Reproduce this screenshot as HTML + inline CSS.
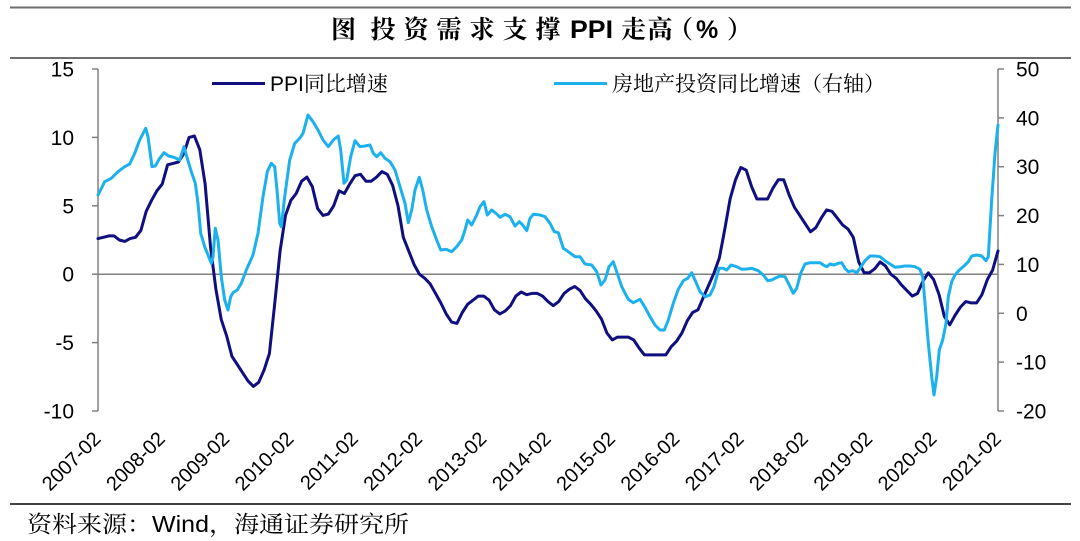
<!DOCTYPE html>
<html>
<head>
<meta charset="utf-8">
<style>
  html, body { margin:0; padding:0; background:#fff; }
  body { width:1080px; height:541px; overflow:hidden; }
  svg { display:block; }
  .num { font-family:"Liberation Sans", Arial, sans-serif; font-size:21px; fill:#000; }
  .cjk { font-family:"Liberation Sans", "Noto Serif CJK SC", "Noto Sans CJK SC", serif; fill:#000; }
  .ttl { font-family:"Liberation Sans", "Noto Serif CJK SC", "Noto Sans CJK SC", serif; font-weight:bold; font-size:25px; fill:#000; }
</style>
</head>
<body>
<svg width="1080" height="541" viewBox="0 0 1080 541" xmlns="http://www.w3.org/2000/svg">
  <rect x="0" y="0" width="1080" height="541" fill="#fff"/>

  <!-- rules -->
  <line x1="10" y1="7.5" x2="1071" y2="7.5" stroke="#6e6e6e" stroke-width="2"/>
  <line x1="10" y1="58" x2="1071" y2="58" stroke="#6e6e6e" stroke-width="2"/>
  <line x1="10" y1="504" x2="1071" y2="504" stroke="#444" stroke-width="2"/>

  <!-- title -->
  <text class="ttl" x="331" y="38">图</text>
  <text class="ttl" x="370.5 403.5 436.5 469.5 502.5 535.5" y="38">投资需求支撑</text>
  <text class="ttl" x="570" y="38" font-size="24" textLength="43" lengthAdjust="spacingAndGlyphs">PPI</text>
  <text class="ttl" x="621 647.5" y="38">走高</text>
  <text class="ttl" x="668" y="38">（</text>
  <text class="ttl" x="696" y="38" font-size="24">%</text>
  <text class="ttl" x="727" y="38">）</text>

  <!-- legend -->
  <line x1="212" y1="83.5" x2="265" y2="83.5" stroke="#0f0f7f" stroke-width="3"/>
  <text class="cjk" x="270" y="91" font-size="21">PPI同比增速</text>
  <line x1="554" y1="83.5" x2="607" y2="83.5" stroke="#1cb1ec" stroke-width="3"/>
  <text class="cjk" x="612" y="91" font-size="21">房地产投资同比增速（右轴）</text>

  <!-- left axis -->
  <g stroke="#808080" stroke-width="1.5">
    <line x1="98" y1="69" x2="98" y2="411"/>
    <line x1="92" y1="69" x2="98" y2="69"/>
    <line x1="92" y1="137.4" x2="98" y2="137.4"/>
    <line x1="92" y1="205.8" x2="98" y2="205.8"/>
    <line x1="92" y1="274.2" x2="98" y2="274.2"/>
    <line x1="92" y1="342.6" x2="98" y2="342.6"/>
    <line x1="92" y1="411" x2="98" y2="411"/>
    <!-- right axis -->
    <line x1="998" y1="69" x2="998" y2="411"/>
    <line x1="998" y1="69" x2="1004" y2="69"/>
    <line x1="998" y1="117.9" x2="1004" y2="117.9"/>
    <line x1="998" y1="166.7" x2="1004" y2="166.7"/>
    <line x1="998" y1="215.6" x2="1004" y2="215.6"/>
    <line x1="998" y1="264.4" x2="1004" y2="264.4"/>
    <line x1="998" y1="313.3" x2="1004" y2="313.3"/>
    <line x1="998" y1="362.1" x2="1004" y2="362.1"/>
    <line x1="998" y1="411" x2="1004" y2="411"/>
    <!-- zero line -->
    <line x1="98" y1="274.2" x2="998" y2="274.2"/>
  </g>

  <!-- left tick labels -->
  <g class="num" text-anchor="end">
    <text x="74" y="76.5">15</text>
    <text x="74" y="144.9">10</text>
    <text x="74" y="213.3">5</text>
    <text x="74" y="281.7">0</text>
    <text x="74" y="350.1">-5</text>
    <text x="74" y="418.5">-10</text>
  </g>
  <!-- right tick labels -->
  <g class="num">
    <text x="1016" y="76.5">50</text>
    <text x="1016" y="125.4">40</text>
    <text x="1016" y="174.2">30</text>
    <text x="1016" y="223.1">20</text>
    <text x="1016" y="271.9">10</text>
    <text x="1016" y="320.8">0</text>
    <text x="1016" y="369.6">-10</text>
    <text x="1016" y="418.5">-20</text>
  </g>

  <!-- date labels -->
  <g class="num" font-size="20" text-anchor="end" style="font-size:20px">
    <text transform="translate(102,440) rotate(-45)">2007-02</text>
    <text transform="translate(166.3,440) rotate(-45)">2008-02</text>
    <text transform="translate(230.6,440) rotate(-45)">2009-02</text>
    <text transform="translate(294.9,440) rotate(-45)">2010-02</text>
    <text transform="translate(359.2,440) rotate(-45)">2011-02</text>
    <text transform="translate(423.5,440) rotate(-45)">2012-02</text>
    <text transform="translate(487.8,440) rotate(-45)">2013-02</text>
    <text transform="translate(552.1,440) rotate(-45)">2014-02</text>
    <text transform="translate(616.4,440) rotate(-45)">2015-02</text>
    <text transform="translate(680.7,440) rotate(-45)">2016-02</text>
    <text transform="translate(745,440) rotate(-45)">2017-02</text>
    <text transform="translate(809.3,440) rotate(-45)">2018-02</text>
    <text transform="translate(873.6,440) rotate(-45)">2019-02</text>
    <text transform="translate(937.9,440) rotate(-45)">2020-02</text>
    <text transform="translate(1002.2,440) rotate(-45)">2021-02</text>
  </g>

  <!-- PPI series -->
  <polyline fill="none" stroke="#0f0f7f" stroke-width="3" stroke-linejoin="round" stroke-linecap="round"
    points="98,238.6 103.4,237.3 108.7,235.9 114.1,235.9 119.4,240 124.8,241.4 130.1,238.6 135.5,237.3 140.9,230.4 146.2,211.3 151.6,200.3 156.9,190.8 162.3,183.9 167.6,164.8 173,163.4 178.4,162 183.7,153.8 189.1,137.4 194.4,136 199.8,149.7 205.1,183.9 210.5,246.8 215.9,289.2 221.2,319.3 226.6,335.8 231.9,356.3 237.3,364.5 242.6,372.7 248,380.9 253.4,386.4 258.7,382.3 264.1,370 269.4,353.5 274.8,302.9 280.1,250.9 285.5,215.4 290.9,200.3 296.2,193.5 301.6,181.2 306.9,177.1 312.3,186.6 317.6,208.5 323,215.4 328.4,214 333.7,205.8 339.1,190.8 344.4,193.5 349.8,183.9 355.1,175.7 360.5,174.3 365.9,181.2 371.2,181.2 376.6,177.1 381.9,171.6 387.3,174.3 392.6,185.3 398,205.8 403.3,237.3 408.7,250.9 414.1,264.6 419.4,274.2 424.8,278.3 430.1,283.8 435.5,293.4 440.8,302.9 446.2,313.9 451.6,322.1 456.9,323.4 462.3,312.5 467.6,304.3 473,300.2 478.3,296.1 483.7,296.1 489.1,300.2 494.4,309.8 499.8,313.9 505.1,311.1 510.5,305.7 515.8,296.1 521.2,292 526.6,294.7 531.9,293.4 537.3,293.4 542.6,296.1 548,301.6 553.3,305.7 558.7,301.6 564.1,293.4 569.4,289.2 574.8,286.5 580.1,290.6 585.5,298.8 590.8,304.3 596.2,311.1 601.6,319.3 606.9,333 612.3,339.9 617.6,337.1 623,337.1 628.3,337.1 633.7,339.9 639.1,348.1 644.4,354.9 649.8,354.9 655.1,354.9 660.5,354.9 665.8,354.9 671.2,346.7 676.6,341.2 681.9,333 687.3,320.7 692.6,312.5 698,309.8 703.3,297.5 708.7,285.1 714.1,272.8 719.4,257.8 724.8,229.1 730.1,199 735.5,179.8 740.8,167.5 746.2,170.2 751.6,186.6 756.9,199 762.3,199 767.6,199 773,188 778.3,179.8 783.7,179.8 789.1,194.9 794.4,207.2 799.8,215.4 805.1,223.6 810.5,231.8 815.8,227.7 821.2,218.1 826.6,209.9 831.9,211.3 837.3,218.1 842.6,224.9 848,229.1 853.3,237.3 858.7,261.9 864.1,272.8 869.4,272.8 874.8,268.7 880.1,261.9 885.5,266 890.8,274.2 896.2,278.3 901.6,285.1 906.9,290.6 912.3,296.1 917.6,293.4 923,281 928.3,272.8 933.7,279.7 939.1,294.7 944.4,316.6 949.8,324.8 955.1,315.2 960.5,307 965.8,301.6 971.2,302.9 976.6,302.9 981.9,294.7 987.3,279.7 992.6,270.1 998,250.9"/>

  <!-- Real estate investment series (right axis) -->
  <polyline fill="none" stroke="#1cb1ec" stroke-width="3" stroke-linejoin="round" stroke-linecap="round"
    points="98,195 104.7,181.7 111.3,178.3 118,171.7 124.7,166.7 129.7,164 134.7,153.3 139.7,140 145.7,128.3 148,136.7 152,166.7 155.3,166 159.7,158.3 164,152.7 168.7,156 174,157.3 179.7,160 184,146.7 187.3,158.3 191.3,171.7 195.3,183.3 198,203.3 200.7,233.3 204.7,246.7 208,255 211.3,263.3 213,256.7 215.3,228.3 218,240 221.3,276.7 224.7,300 228,310 230.7,296.7 233,292.7 237.3,290 241.3,283.3 246.3,270 253,255 258,233.3 263,196.7 267.3,171.7 271.3,163.3 274.7,166.7 277.3,193.3 279.7,223.3 281.3,226.7 284.7,196.7 289.7,160 294.7,143.3 299.7,138.3 303,133.3 308,115 313,121.7 318,130 323,140 328.3,146.7 333.3,140 338.3,136 340.7,150 344,183.3 346.7,180 350.7,156.7 355,140.7 360,146.7 365,146 370,145 373.3,153.3 376.7,156.7 380.7,152.7 385,158.3 390,161.7 395,170 400,186.7 405,203.3 408.3,222.7 411.7,210 415,190 419.3,177.3 422.7,190 426.7,210 431.7,226.7 436.7,240 440.7,250 446,249.3 451.7,251.7 456.7,246.7 461.7,240 465,230 467.7,220 471.7,225 476.7,215 480,206.7 484,201.7 487.3,215 491.7,210 496,213.3 500,217.3 505,214.3 510,216.7 515,226 519.3,221.7 522.7,225 526.7,230.7 530,218.3 533.3,214.3 540,215 545,216.7 550,223.3 554.3,231.7 558.3,232.7 563.3,248.3 568.3,251.7 575,256.7 580,256.7 585,264 591.7,265 596.7,271.7 601,285 605,280 609,266.7 613.3,261.7 616.7,271.7 621.7,286.7 628.3,299.3 633.3,302.7 640,299.3 645,307.3 650,316.7 655,325 660,330 664.3,330 668.3,320 673.3,303.3 678.3,289.3 683.3,280.7 687.7,278.3 691.7,272.7 695.7,281.7 700,291.7 705,296.7 710,295 714,286.7 716.7,276.7 719,268.3 723.3,268.3 726.7,270 731,265 736.7,266.7 741.7,269.3 746.7,269 751.7,268.3 758.3,270.7 763.3,275 767.7,280.7 771.7,280 775,278.3 780,276 785,276.7 789.3,285 793.3,293.3 796.7,288.3 800.7,273.3 805,264 810,262.7 815,262.7 820,262.7 823.3,265 826.7,266.7 830,264 834,265 838.3,263.3 841.7,262.7 845,268.3 848.3,271.7 852.7,270.7 856.7,272.7 860,268.3 865,260.7 870,256 875,256 880,256.7 885,260.7 890,264 895,267.3 900,266.7 905,266 910,266 915,266.7 920,269.3 922.7,276.7 925,303.3 928.3,343.3 931.7,376.7 934,395 936.7,376.7 939.3,350 942.7,340 946,323.3 948.3,296.7 951.7,281.7 955,275 959.3,270 963.3,266.7 968.3,261.7 971.7,256 976.7,255 981.7,256 986,260.7 988.3,256.7 991.7,200 995,153.3 998,125"/>

  <!-- source -->
  <text class="cjk" x="27" y="532" font-size="23" textLength="382" lengthAdjust="spacingAndGlyphs">资料来源：Wind，海通证券研究所</text>
</svg>
</body>
</html>
